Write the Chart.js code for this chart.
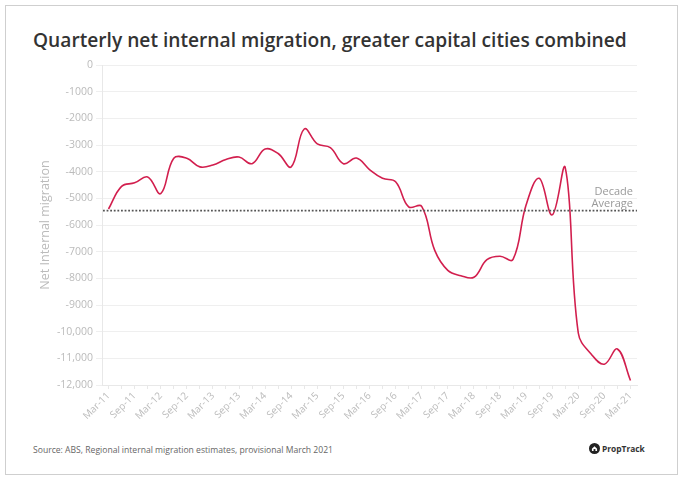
<!DOCTYPE html>
<html>
<head>
<meta charset="utf-8">
<script src="https://cdn.jsdelivr.net/npm/chart.js@4"></script>
<style>
  html, body { margin:0; padding:0; background:#fff; }
  body { width:683px; height:480px; position:relative; overflow:hidden; font-family:"Open Sans", sans-serif; }
  #frame { position:absolute; left:5px; top:5px; width:671px; height:468px; border:1px solid #cfcfcf; }
  #title { position:absolute; left:33px; top:26px; font-size:19px; font-weight:600; color:#333; white-space:nowrap; }
  #chartWrap { position:absolute; left:0; top:55px; width:683px; height:385px; }
  #source { position:absolute; left:33px; top:444px; font-size:8.6px; color:#666; white-space:nowrap; }
  #logo { position:absolute; left:589px; top:443px; display:flex; align-items:center; font-size:8.4px; font-weight:700; color:#333; white-space:nowrap; }
  #logo svg { margin-right:2px; }
</style>
</head>
<body>
<div id="frame"></div>
<div id="title">Quarterly net internal migration, greater capital cities combined</div>
<div id="chartWrap"><canvas id="c" width="683" height="385"></canvas></div>
<div id="source">Source: ABS, Regional internal migration estimates, provisional March 2021</div>
<div id="logo"><svg width="11" height="11" viewBox="0 0 12 12"><circle cx="6" cy="6" r="6" fill="#222"/><path d="M3.2 6.2 L6 3.6 L8.8 6.2 L8.8 8.8 L3.2 8.8 Z" fill="#fff"/><rect x="5" y="6.6" width="2" height="2.2" fill="#222"/></svg>PropTrack</div>
<script>
const quarters = ['Mar-11','Jun-11','Sep-11','Dec-11','Mar-12','Jun-12','Sep-12','Dec-12','Mar-13','Jun-13','Sep-13','Dec-13','Mar-14','Jun-14','Sep-14','Dec-14','Mar-15','Jun-15','Sep-15','Dec-15','Mar-16','Jun-16','Sep-16','Dec-16','Mar-17','Jun-17','Sep-17','Dec-17','Mar-18','Jun-18','Sep-18','Dec-18','Mar-19','Jun-19','Sep-19','Dec-19','Mar-20','Jun-20','Sep-20','Dec-20','Mar-21'];
const netMigration = [-5400,-4550,-4420,-4200,-4820,-3500,-3500,-3820,-3750,-3540,-3450,-3700,-3150,-3320,-3820,-2400,-2960,-3100,-3700,-3490,-3920,-4250,-4380,-5320,-5300,-6950,-7700,-7900,-7960,-7300,-7170,-7290,-5250,-4250,-5620,-3850,-10050,-10850,-11220,-10650,-11830];
const decadeAverage = -5460;
const yTicks = [0,-1000,-2000,-3000,-4000,-5000,-6000,-7000,-8000,-9000,-10000,-11000,-12000];
const avgLabel = ['Decade','Average'];

// fit title width
(function(){
  const t = document.getElementById('title');
  const target = 594;
  const w = t.getBoundingClientRect().width;
  t.style.fontSize = (19 * target / w).toFixed(2) + 'px';
})();

const fontFam = '"Open Sans", sans-serif';

const avgPlugin = {
  id: 'avgLine',
  afterDatasetsDraw(chart) {
    const {ctx, chartArea, scales} = chart;
    const y = scales.y.getPixelForValue(decadeAverage);
    ctx.save();
    ctx.strokeStyle = '#555';
    ctx.lineWidth = 1.8;
    ctx.setLineDash([1.8, 1.8]);
    ctx.beginPath();
    ctx.moveTo(chartArea.left + 1, y);
    ctx.lineTo(chartArea.right, y);
    ctx.stroke();
    ctx.setLineDash([]);
    ctx.fillStyle = '#999';
    ctx.font = '11px ' + fontFam;
    ctx.textAlign = 'right';
    ctx.textBaseline = 'middle';
    ctx.fillText(avgLabel[0], chartArea.right - 4, y - 19);
    ctx.fillText(avgLabel[1], chartArea.right - 4, y - 7);
    ctx.restore();
  }
};

new Chart(document.getElementById('c'), {
  type: 'line',
  data: {
    labels: quarters,
    datasets: [{
      data: netMigration,
      borderColor: '#d21f4e',
      borderWidth: 1.6,
      pointRadius: 0,
      tension: 0.4,
      fill: false
    }]
  },
  options: {
    responsive: false,
    animation: false,
    layout: { padding: { top: 10, right: 46, left: 0, bottom: 0 } },
    plugins: { legend: { display: false }, tooltip: { enabled: false } },
    scales: {
      x: {
        type: 'category',
        offset: true,
        border: { color: '#e8e8e8' },
        grid: { display: true, drawOnChartArea: false, tickLength: 4, color: '#e8e8e8' },
        ticks: {
          autoSkip: false, maxRotation: 45, minRotation: 45, padding: 1,
          color: '#bbb', font: { family: fontFam, size: 10 },
          callback: (v, i) => (i % 2 === 0 ? quarters[i] : '')
        },
        afterFit: s => { s.height = 55; }
      },
      y: {
        min: -12000, max: 0,
        border: { color: '#e8e8e8' },
        grid: { color: '#efefef', tickLength: 6 },
        afterBuildTicks: s => { s.ticks = yTicks.map(v => ({ value: v })); },
        ticks: {
          color: '#bbb', padding: 3, font: { family: fontFam, size: 10.5 },
          callback: v => (Math.abs(v) >= 10000 ? v.toLocaleString('en-US') : String(v))
        },
        title: { display: true, text: 'Net Internal migration', color: '#bbb', font: { family: fontFam, size: 12.5 }, padding: { top: 38, bottom: 0 } },
        afterFit: s => { s.width = 102; }
      }
    }
  },
  plugins: [avgPlugin]
});
</script>
</body>
</html>
